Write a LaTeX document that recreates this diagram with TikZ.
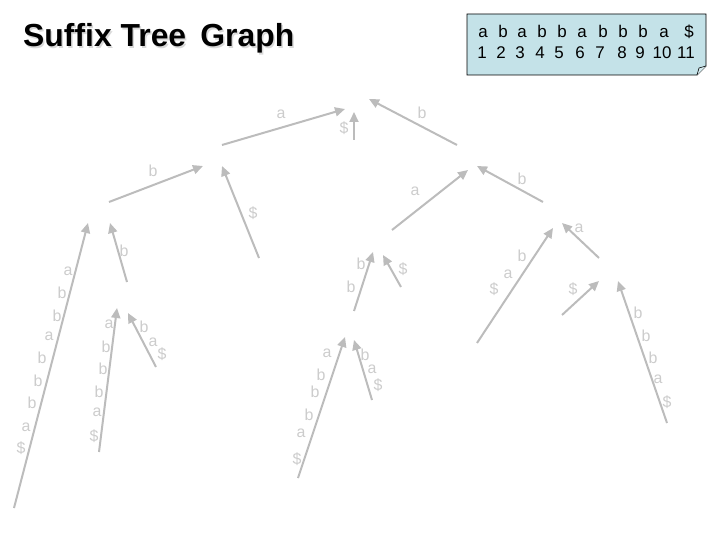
\documentclass[tikz,border=0pt]{standalone}
\usepackage{fontspec}
\setmainfont{Liberation Sans}
\usetikzlibrary{arrows.meta}
\definecolor{edgegray}{RGB}{188,188,188}
\definecolor{labgray}{RGB}{204,204,204}
\definecolor{boxblue}{RGB}{196,226,232}
\tikzset{
  edge/.style={draw=edgegray, line width=2bp, -{Triangle[length=10bp,width=9bp]}},
  lab/.style={text=labgray, inner sep=0pt, font=\fontsize{16}{16}\selectfont},
  hdr/.style={inner sep=0pt, anchor=base, font=\fontsize{17}{17}\selectfont},
}
\begin{document}
\begin{tikzpicture}[x=1bp,y=-1bp]
\useasboundingbox (0,0) rectangle (720,540);
% title
\node[anchor=base west, inner sep=0pt, text=black!15, font=\bfseries\fontsize{32}{32}\selectfont] (titleshadow) at (24.5,48.5) {Suffix Tree\, Graph};
\node[anchor=base west, inner sep=0pt, font=\bfseries\fontsize{32}{32}\selectfont] (title) at (23,47) {Suffix Tree\, Graph};
% header box
\draw[black, line width=0.8bp, fill=boxblue] (467,14) -- (706,14) -- (706,66) -- (697,75) -- (467,75) -- cycle;
\draw[black, line width=0.6bp, fill=boxblue!70!white] (697,75) -- (699,68) -- (706,66);
\foreach \x/\c [count=\i] in {483/a,503/b,522/a,542/b,562/b,582/a,603/b,623/b,643/b,664/a,689/\$}
  \node[hdr] (h\i) at (\x,38) {\c};
\foreach \x/\c [count=\i] in {482/1,501/2,520/3,540/4,559/5,580/6,600/7,622/8,640/9,662/10,686/11}
  \node[hdr] (n\i) at (\x,59) {\c};
% arrow endpoints
\coordinate (s1) at (222,145); \coordinate (t1) at (345,109);
\coordinate (s2) at (354,140); \coordinate (t2) at (354,112);
\coordinate (s3) at (457,145); \coordinate (t3) at (369,99);
\coordinate (s4) at (109,202); \coordinate (t4) at (203,166);
\coordinate (s5) at (259,258); \coordinate (t5) at (222,166);
\coordinate (s6) at (392,230); \coordinate (t6) at (468,170);
\coordinate (s7) at (543,202); \coordinate (t7) at (477,166);
\coordinate (s8) at (14,508); \coordinate (t8) at (88,223);
\coordinate (s9) at (127,282); \coordinate (t9) at (110,223);
\coordinate (s10) at (99,452); \coordinate (t10) at (117,308);
\coordinate (s11) at (156,367); \coordinate (t11) at (128,313);
\coordinate (s12) at (354,311); \coordinate (t12) at (373,252);
\coordinate (s13) at (401,287); \coordinate (t13) at (383,255);
\coordinate (s14) at (298,478); \coordinate (t14) at (345,337);
\coordinate (s15) at (372,400); \coordinate (t15) at (354,340);
\coordinate (s16) at (477,343); \coordinate (t16) at (553,228);
\coordinate (s17) at (599,258); \coordinate (t17) at (562,223);
\coordinate (s18) at (562,315); \coordinate (t18) at (599,281);
\coordinate (s19) at (667,423); \coordinate (t19) at (618,281);
\foreach \i in {1,...,19} \draw[edge] (s\i) -- (t\i);
% labels
\node[lab] (l1) at (281,114) {a};
\node[lab] (l2) at (344,128) {\$};
\node[lab] (l3) at (422,113) {b};
\node[lab] (l4) at (153,171) {b};
\node[lab] (l5) at (253,213) {\$};
\node[lab] (l6) at (415,191) {a};
\node[lab] (l7) at (522,179) {b};
\foreach \x/\y/\c [count=\i] in {68/271/a,62/293/b,57/316/b,49/336/a,42/358/b,38/381/b,32/403/b,26/427/a,21/448/\$}
  \node[lab] (l8-\i) at (\x,\y) {\c};
\node[lab] (l9) at (124,251) {b};
\foreach \x/\y/\c [count=\i] in {109/324/a,106/347/b,103/369/b,99/392/b,97/412/a,94/436/\$}
  \node[lab] (l10-\i) at (\x,\y) {\c};
\foreach \x/\y/\c [count=\i] in {144/327/b,153/342/a,162/354/\$}
  \node[lab] (l11-\i) at (\x,\y) {\c};
\node[lab] (l12-1) at (361,264) {b};
\node[lab] (l12-2) at (351,287) {b};
\node[lab] (l13) at (403,269) {\$};
\foreach \x/\y/\c [count=\i] in {327/353/a,321/375/b,315/392/b,309/415/b,301/433/a,297/459/\$}
  \node[lab] (l14-\i) at (\x,\y) {\c};
\foreach \x/\y/\c [count=\i] in {365/355/b,372/369/a,378/385/\$}
  \node[lab] (l15-\i) at (\x,\y) {\c};
\foreach \x/\y/\c [count=\i] in {522/256/b,508/274/a,494/289/\$}
  \node[lab] (l16-\i) at (\x,\y) {\c};
\node[lab] (l17) at (579,228) {a};
\node[lab] (l18) at (573,289) {\$};
\foreach \x/\y/\c [count=\i] in {638/313/b,646/336/b,653/358/b,658/379/a,667/402/\$}
  \node[lab] (l19-\i) at (\x,\y) {\c};
\end{tikzpicture}
\end{document}
